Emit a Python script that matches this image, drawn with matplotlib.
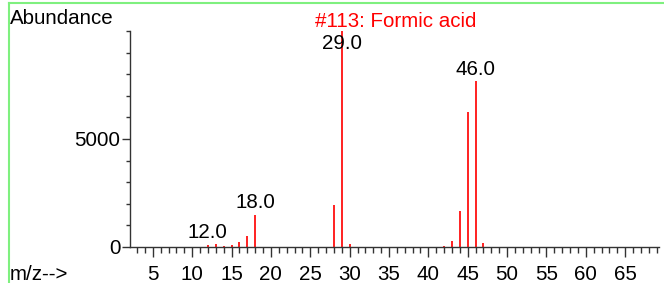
"""Mass spectrum of formic acid (library hit #113)."""

import matplotlib.pyplot as plt
from matplotlib.lines import Line2D

plt.rcParams["font.family"] = ["Liberation Sans", "DejaVu Sans"]

# m/z values and abundances
mz = [12, 13, 14, 15, 16, 17, 18, 28, 29, 30, 41, 42, 43, 44, 45, 46, 47]
abundance = [80, 130, 60, 100, 250, 530, 1500, 1930, 9999, 140,
             20, 40, 260, 1670, 6250, 7670, 190]
labelled_peaks = [12, 18, 29, 46]
title = "#113: Formic acid"

W, H = 664, 283
FS = 14.8
fig = plt.figure(figsize=(W / 100, H / 100), dpi=100)
ax = fig.add_axes([130 / W, (H - 247) / H, (659 - 130) / W, (247 - 31) / H])

ax.vlines(mz, 0, abundance, color="#ff2020", linewidth=1.4)

top = max(abundance)
for m in labelled_peaks:
    a = abundance[mz.index(m)]
    if a >= 0.9 * top:
        # label of the base peak sits inside the plot, across the line
        ax.annotate(f"{m:.1f}", (m, a), xytext=(0, -2), textcoords="offset points",
                    ha="center", va="top", fontsize=FS, color="black")
    else:
        ax.annotate(f"{m:.1f}", (m, a), xytext=(0, 2), textcoords="offset points",
                    ha="center", va="bottom", fontsize=FS, color="black",
                    annotation_clip=False)

ax.set_xlim(2.1, 69.3)
ax.set_ylim(0, 10000)

ax.set_xticks(range(5, 70, 5))
ax.set_xticks(range(3, 70), minor=True)
ax.set_yticks([0, 5000])
ax.set_yticks(range(0, 10001, 1000), minor=True)

for s in ["top", "right"]:
    ax.spines[s].set_visible(False)
for s in ["left", "bottom"]:
    ax.spines[s].set_color("#333333")
    ax.spines[s].set_linewidth(1.0)

ax.tick_params(axis="x", which="major", direction="out", length=7, width=1,
               color="#333333", labelsize=FS, pad=6)
ax.tick_params(axis="x", which="minor", direction="out", length=4, width=1,
               color="#333333")
ax.tick_params(axis="y", which="major", direction="out", length=6, width=1,
               color="#333333", labelsize=FS, pad=1)
ax.tick_params(axis="y", which="minor", direction="out", length=3, width=1,
               color="#333333")

fig.text(10 / W, 1 - 24 / H, "Abundance", fontsize=FS, va="baseline", ha="left")
fig.text(396 / W, 1 - 27 / H, title, fontsize=FS, va="baseline", ha="center",
         color="red")
fig.text(10 / W, 1 - 280 / H, "m/z-->", fontsize=FS, va="baseline", ha="left")

# light green frame along the top and left edges
fig.add_artist(Line2D([9 / W, 1], [1 - 3 / H, 1 - 3 / H], color="#7ff07f",
                      linewidth=1.5, transform=fig.transFigure))
fig.add_artist(Line2D([9 / W, 9 / W], [0, 1 - 3 / H], color="#7ff07f",
                      linewidth=1.5, transform=fig.transFigure))

fig.savefig("out.png", dpi=100, facecolor="white")
